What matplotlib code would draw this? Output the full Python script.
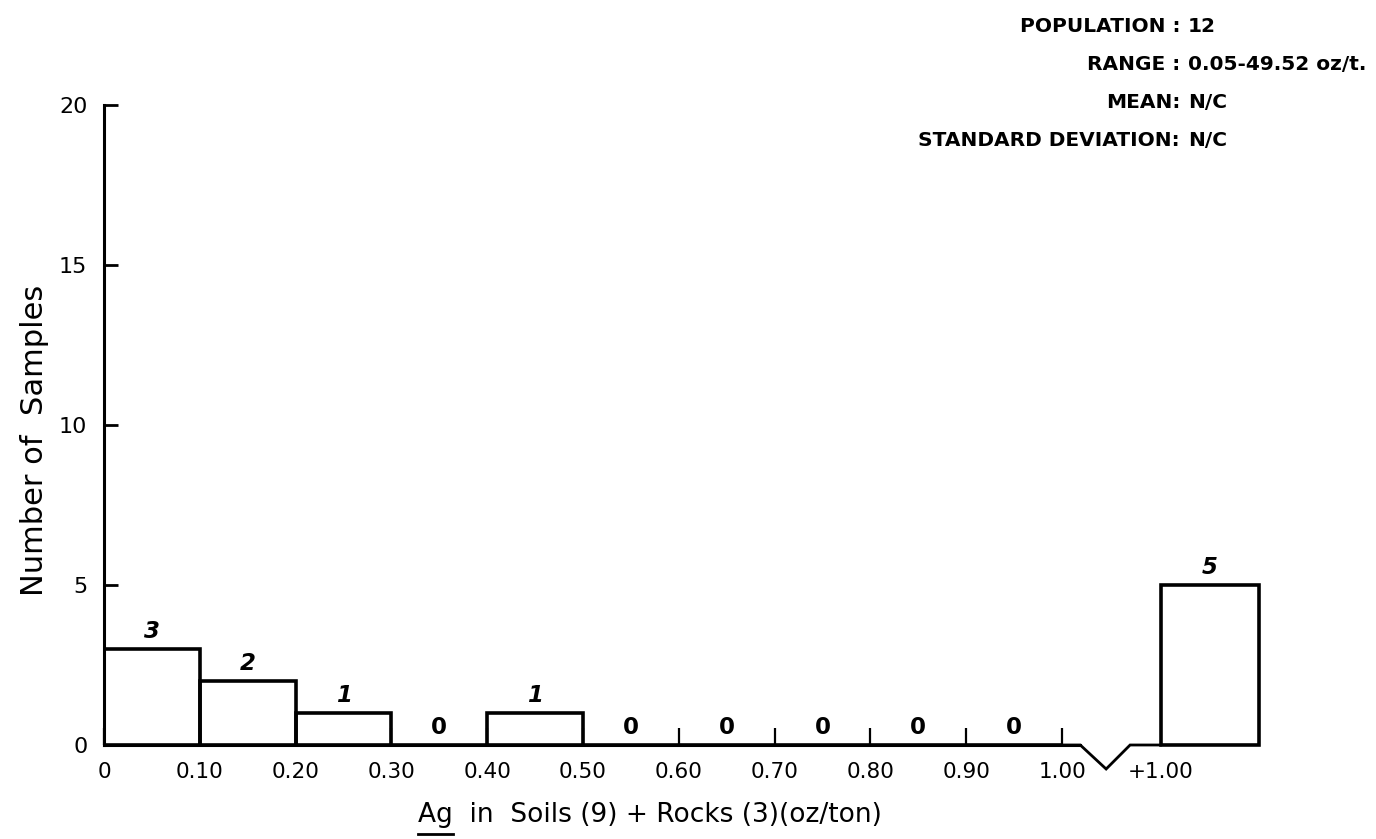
import matplotlib
matplotlib.use('Agg')
from matplotlib import pyplot as plt
from matplotlib.lines import Line2D

# Histogram of silver values, 0.10 oz/ton classes plus one class above 1.00
bin_left = [0.0, 0.1, 0.2, 0.3, 0.4, 0.5, 0.6, 0.7, 0.8, 0.9]
counts = [3, 2, 1, 0, 1, 0, 0, 0, 0, 0]
over_left = 1.103  # the "+1.00" class sits past the axis break
over_count = 5
x_ticks = [0.0, 0.1, 0.2, 0.3, 0.4, 0.5, 0.6, 0.7, 0.8, 0.9, 1.0]
x_tick_labels = ['0', '0.10', '0.20', '0.30', '0.40', '0.50', '0.60',
                 '0.70', '0.80', '0.90', '1.00']
y_ticks = [0, 5, 10, 15, 20]

stats_labels = ['POPULATION :', 'RANGE :', 'MEAN:', 'STANDARD DEVIATION:']
stats_values = ['12', '0.05-49.52 oz/t.', 'N/C', 'N/C']

plt.rcParams['font.family'] = ['DejaVu Sans']

W, H = 1376, 839
fig = plt.figure(figsize=(W / 100, H / 100), dpi=100)
ax = fig.add_axes([104 / W, 62 / H, 1188 / W, 688 / H])

lw = 2.6
ax.bar(bin_left, counts, width=0.1, align='edge', fill=False,
       edgecolor='black', linewidth=lw, joinstyle='miter')
ax.bar(over_left, over_count, width=0.103, align='edge', fill=False,
       edgecolor='black', linewidth=lw, joinstyle='miter')

# axis break between 1.00 and +1.00
ax.plot([1.0, 1.019, 1.046, 1.071, over_left], [0, 0, -0.75, 0, 0],
        color='black', linewidth=2.0, solid_joinstyle='miter')

# counts written over each class (zeros upright, the rest slanted)
def count_label(x, n):
    ax.text(x, n + 0.33, str(n), ha='center', va='baseline', fontsize=16.5,
            fontweight='bold', style='normal' if n == 0 else 'italic')

for left, n in zip(bin_left, counts):
    count_label(left + 0.05, n)
count_label(over_left + 0.0515, over_count)

ax.set_xlim(0, 1.24)
ax.set_ylim(-1, 20.5)

for side in ['top', 'right']:
    ax.spines[side].set_visible(False)
ax.spines['left'].set_bounds(0, 20)
ax.spines['left'].set_linewidth(2.2)
ax.spines['bottom'].set_position(('data', 0))
ax.spines['bottom'].set_bounds(0, 1.019)
ax.spines['bottom'].set_linewidth(2.2)

ax.set_yticks(y_ticks)
ax.set_yticklabels([str(t) for t in y_ticks])
ax.tick_params(axis='y', direction='in', length=10, width=2, pad=12,
               labelsize=16)

ax.set_xticks(x_ticks + [over_left])
ax.set_xticklabels(x_tick_labels + ['+1.00'])
ax.tick_params(axis='x', direction='in', length=12, width=1.6, pad=12,
               labelsize=15.5)
ax.xaxis.get_major_ticks()[-1].tick1line.set_visible(False)

fig.text(35 / W, 1 - 440 / H, 'Number of  Samples', rotation=90,
         ha='center', va='center', fontsize=22)

# x title, with the element symbol underlined
xlab_x, xlab_y = 418 / W, 1 - 815 / H
fig.text(xlab_x, xlab_y, 'Ag  in  Soils (9) + Rocks (3)(oz/ton)',
         ha='left', va='center', fontsize=19)
renderer = fig.canvas.get_renderer()
ag = fig.text(xlab_x, xlab_y, 'Ag', ha='left', va='center', fontsize=19,
              alpha=0)
ag_w = ag.get_window_extent(renderer).width / W
fig.add_artist(Line2D([xlab_x, xlab_x + ag_w], [1 - 834 / H, 1 - 834 / H],
                      color='black', linewidth=2, transform=fig.transFigure))

for i, (lab, val) in enumerate(zip(stats_labels, stats_values)):
    y = 1 - (27 + 38 * i) / H
    fig.text(1180 / W, y, lab, ha='right', va='center', fontsize=14.5,
             fontweight='bold')
    fig.text(1188 / W, y, val, ha='left', va='center', fontsize=14.5,
             fontweight='bold')

fig.savefig('out.png', dpi=100, facecolor='white')
